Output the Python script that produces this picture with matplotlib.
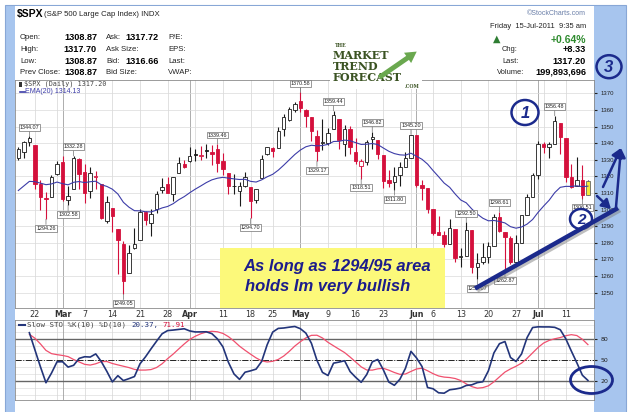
import numpy as np
import pandas as pd
import matplotlib
matplotlib.use("Agg")
import matplotlib.pyplot as plt
from matplotlib.patches import Rectangle, Ellipse
import matplotlib.patheffects as pe

# trading days shown on the chart (2011)
days = [
    "02-16", "02-17", "02-18", "02-22", "02-23", "02-24", "02-25", "02-28",
    "03-01", "03-02", "03-03", "03-04", "03-07", "03-08", "03-09", "03-10", "03-11",
    "03-14", "03-15", "03-16", "03-17", "03-18", "03-21", "03-22", "03-23", "03-24",
    "03-25", "03-28", "03-29", "03-30", "03-31", "04-01", "04-04", "04-05", "04-06",
    "04-07", "04-08", "04-11", "04-12", "04-13", "04-14", "04-15", "04-18", "04-19",
    "04-20", "04-21", "04-25", "04-26", "04-27", "04-28", "04-29", "05-02", "05-03",
    "05-04", "05-05", "05-06", "05-09", "05-10", "05-11", "05-12", "05-13", "05-16",
    "05-17", "05-18", "05-19", "05-20", "05-23", "05-24", "05-25", "05-26", "05-27",
    "05-31", "06-01", "06-02", "06-03", "06-06", "06-07", "06-08", "06-09", "06-10",
    "06-13", "06-14", "06-15", "06-16", "06-17", "06-20", "06-21", "06-22", "06-23",
    "06-24", "06-27", "06-28", "06-29", "06-30", "07-01", "07-05", "07-06", "07-07",
    "07-08", "07-11", "07-12", "07-13", "07-14", "07-15",
]
opens = [
    1330.8, 1334.4, 1340.4, 1338.9, 1315.4, 1307.1, 1307.3, 1321.6,
    1328.6, 1305.5, 1312.4, 1330.7, 1322.7, 1311.1, 1319.9, 1315.7, 1293.4,
    1301.2, 1288.5, 1279.5, 1261.6, 1276.7, 1281.7, 1298.3, 1292.2, 1300.6,
    1311.8, 1315.5, 1309.4, 1321.9, 1327.4, 1329.5, 1333.6, 1332.0, 1335.9,
    1334.8, 1336.2, 1329.0, 1322.0, 1314.0, 1311.1, 1314.5, 1313.4, 1306.0,
    1319.1, 1333.2, 1337.1, 1336.8, 1348.4, 1353.9, 1360.1, 1365.2, 1359.8,
    1355.9, 1344.2, 1340.2, 1340.2, 1348.3, 1354.5, 1339.4, 1348.7, 1334.8,
    1326.1, 1328.5, 1342.4, 1342.0, 1333.1, 1317.7, 1316.4, 1320.6, 1325.7,
    1331.1, 1345.2, 1314.6, 1312.9, 1300.3, 1286.3, 1284.6, 1279.6, 1288.3,
    1271.3, 1272.2, 1287.9, 1265.5, 1268.6, 1271.5, 1278.4, 1295.5, 1286.6,
    1283.0, 1268.4, 1280.2, 1296.9, 1307.6, 1320.6, 1339.6, 1337.6, 1339.6,
    1352.4, 1343.3, 1319.6, 1314.5, 1317.7, 1308.87,
]
highs = [
    1337.6, 1341.5, 1344.07, 1338.9, 1317.9, 1310.9, 1320.6, 1329.4,
    1332.1, 1314.2, 1332.28, 1331.1, 1327.7, 1325.7, 1323.2, 1315.7, 1308.4,
    1301.2, 1288.5, 1280.9, 1278.9, 1288.9, 1300.6, 1299.4, 1300.5, 1311.3,
    1319.2, 1319.7, 1319.5, 1331.7, 1329.8, 1337.9, 1336.7, 1338.2, 1339.4,
    1338.8, 1339.46, 1333.8, 1322.0, 1321.4, 1316.8, 1322.9, 1313.4, 1312.7,
    1332.7, 1337.5, 1337.6, 1349.6, 1357.5, 1361.7, 1364.6, 1370.58, 1360.8,
    1355.9, 1348.0, 1354.4, 1349.4, 1359.44, 1354.5, 1351.1, 1350.5, 1343.3,
    1330.4, 1341.8, 1346.82, 1342.0, 1333.1, 1323.7, 1325.9, 1328.5, 1334.6,
    1345.20, 1345.2, 1318.0, 1312.9, 1300.3, 1296.2, 1287.0, 1294.5, 1288.3,
    1277.0, 1292.50, 1287.9, 1274.1, 1279.8, 1280.4, 1297.6, 1298.61, 1286.6,
    1283.9, 1284.9, 1296.8, 1309.2, 1322.0, 1341.0, 1340.9, 1340.9, 1356.48,
    1352.4, 1343.3, 1327.2, 1331.5, 1326.9, 1317.70,
]
lows = [
    1329.6, 1331.0, 1338.1, 1312.3, 1299.6, 1294.26, 1307.3, 1320.6,
    1305.3, 1302.58, 1312.4, 1312.6, 1304.0, 1306.9, 1312.3, 1294.2, 1292.0,
    1286.4, 1261.1, 1249.05, 1261.6, 1276.2, 1281.7, 1291.0, 1284.1, 1297.7,
    1310.2, 1310.2, 1305.3, 1321.9, 1325.0, 1328.9, 1329.1, 1330.0, 1331.1,
    1326.6, 1322.9, 1321.1, 1309.5, 1309.2, 1302.4, 1313.7, 1294.70, 1304.0,
    1319.1, 1332.8, 1331.5, 1336.8, 1344.3, 1353.6, 1358.7, 1358.6, 1349.5,
    1341.5, 1329.17, 1335.6, 1338.6, 1348.3, 1336.4, 1332.0, 1333.4, 1327.3,
    1318.51, 1326.6, 1336.4, 1330.7, 1312.9, 1313.9, 1311.80, 1314.4, 1325.7,
    1331.1, 1313.7, 1305.6, 1297.9, 1284.7, 1284.7, 1277.4, 1279.6, 1268.3,
    1265.6, 1272.2, 1261.9, 1258.07, 1267.4, 1267.6, 1278.4, 1286.8, 1262.87,
    1267.2, 1267.5, 1280.2, 1296.9, 1307.6, 1318.2, 1334.3, 1330.9, 1339.6,
    1333.7, 1316.4, 1313.3, 1314.5, 1306.51, 1308.87,
]
closes = [
    1336.3, 1340.4, 1343.0, 1315.4, 1307.4, 1306.1, 1319.9, 1327.2,
    1306.3, 1308.4, 1331.0, 1321.2, 1310.1, 1321.8, 1320.0, 1295.1, 1304.3,
    1296.4, 1281.9, 1256.9, 1273.7, 1279.2, 1298.4, 1293.8, 1297.5, 1309.7,
    1313.8, 1310.2, 1319.4, 1328.3, 1325.8, 1332.4, 1332.9, 1332.6, 1335.5,
    1333.5, 1328.2, 1324.5, 1314.2, 1314.4, 1314.5, 1319.7, 1305.1, 1312.6,
    1330.4, 1337.4, 1335.3, 1347.2, 1355.7, 1360.5, 1363.6, 1361.2, 1356.6,
    1347.3, 1335.1, 1340.2, 1346.3, 1357.2, 1342.1, 1348.7, 1337.8, 1329.5,
    1329.0, 1340.7, 1343.6, 1333.3, 1317.4, 1316.3, 1320.5, 1325.7, 1331.1,
    1345.2, 1314.6, 1312.9, 1300.2, 1286.2, 1284.9, 1279.6, 1289.0, 1271.0,
    1271.8, 1287.9, 1265.4, 1267.6, 1271.5, 1278.4, 1295.5, 1287.1, 1283.5,
    1268.5, 1280.1, 1296.7, 1307.4, 1320.6, 1339.7, 1337.9, 1339.2, 1353.2,
    1343.8, 1319.5, 1313.6, 1317.7, 1308.9, 1317.20,
]
# candles carrying a value callout, and whether it marks the high or the low
callout_idx = [2, 5, 9, 10, 19, 36, 42, 51, 54, 57, 62, 64, 68, 71, 81, 83, 87, 88, 97, 102]
callout_hi = [1, 0, 0, 1, 0, 1, 0, 1, 0, 1, 0, 1, 0, 1, 1, 0, 1, 0, 1, 0]
ema_start = 1311.5  # EMA(20) level at the left edge

LS = "Liberation Sans"
NARROW = ["Liberation Sans Narrow", "Liberation Sans"]
NAVY = "#1b2a8c"
RED = "#d4103c"

dates = pd.to_datetime(["2011-" + d for d in days])
n = len(dates)
x = np.arange(n)
o, h, l, c = (np.array(v) for v in (opens, highs, lows, closes))

# indicators
ema = [ema_start]
for v in c[1:]:
    ema.append(ema[-1] + 2 / 21 * (v - ema[-1]))
df = pd.DataFrame({"h": h, "l": l, "c": c})
hh = df.h.rolling(10, min_periods=1).max()
ll = df.l.rolling(10, min_periods=1).min()
fast_k = 100 * (df.c - ll) / (hh - ll)
slow_k = fast_k.rolling(3, min_periods=1).mean()
slow_d = slow_k.rolling(10, min_periods=1).mean()

# week / month boundaries for grid and date labels
wk = dates.isocalendar().week.values
mo = dates.month.values
week_starts = [i for i in range(1, n) if wk[i] != wk[i - 1]]
month_starts = [i for i in range(1, n) if mo[i] != mo[i - 1]]
tick_pos, tick_lab = [], []
for i in sorted(set(week_starts) | set(month_starts)):
    if i in month_starts:
        tick_pos.append(i); tick_lab.append(dates[i].strftime("%b"))
    elif min(abs(i - m) for m in month_starts) > 2:
        tick_pos.append(i); tick_lab.append(str(dates[i].day))

W, H = 634, 412
fig = plt.figure(figsize=(W / 100, H / 100), dpi=100)


def rect(x0, y0, x1, y1):
    return [x0 / W, 1 - y1 / H, (x1 - x0) / W, (y1 - y0) / H]


# frame and header
bg = fig.add_axes([0, 0, 1, 1], zorder=0)
bg.set_xlim(0, W); bg.set_ylim(H, 0); bg.axis("off")
bg.add_patch(Rectangle((5, 5), 621, H, fc="#a7c5ee", ec="#88a7d6", lw=0.8))
bg.add_patch(Rectangle((15, 6), 579, H, fc="white", ec="none"))

bg.text(17, 14, "$SPX", fontsize=7.5, fontweight="bold", va="center", family=LS)
bg.text(44, 14.5, "(S&P 500 Large Cap Index) INDX", fontsize=5.6, va="center", family=LS, color="#222")
bg.text(586, 13, "©StockCharts.com", fontsize=5, ha="right", va="center", family=LS, color="#6a7fa8")

rows = [37, 49, 61, 72]
for y, a, b, cc, dd in zip(rows, ["Open:", "High:", "Low:", "Prev Close:"],
                           ["1308.87", "1317.70", "1308.87", "1308.87"],
                           ["Ask:", "Ask Size:", "Bid:", "Bid Size:"],
                           ["P/E:", "EPS:", "Last:", "VWAP:"]):
    bg.text(20, y, a, fontsize=5.6, va="center", family=LS, color="#222")
    bg.text(97, y, b, fontsize=6.6, fontweight="bold", ha="right", va="center", family=LS)
    bg.text(106, y, cc, fontsize=5.6, va="center", family=LS, color="#222")
    bg.text(168, y, dd, fontsize=5.6, va="center", family=LS, color="#222")
bg.text(159, 37, "1317.72", fontsize=6.6, fontweight="bold", ha="right", va="center", family=LS)
bg.text(159, 61, "1316.66", fontsize=6.6, fontweight="bold", ha="right", va="center", family=LS)

bg.text(586, 26, "Friday  15-Jul-2011  9:35 am", fontsize=5.4, ha="right", va="center", family=LS, color="#222")
bg.text(497, 39, "▲", fontsize=7, ha="center", va="center", family="DejaVu Sans", color="#2e7d32")
bg.text(586, 39.5, "+0.64%", fontsize=7.5, fontweight="bold", ha="right", va="center", family=LS, color="#2e8b2e")
for y, a, b, x0 in [(49, "Chg:", "+8.33", 502), (61, "Last:", "1317.20", 502),
                    (72, "Volume:", "199,893,696", 497)]:
    bg.text(x0, y, a, fontsize=5.4, va="center", family=LS, color="#222")
    bg.text(586, y, b, fontsize=6.6, fontweight="bold", ha="right", va="center", family=LS)

# price panel
ax = fig.add_axes(rect(15, 80, 594, 308), zorder=1)
ax.set_xlim(-0.6, 104.1)
ax.set_ylim(1240.8, 1378.0)
ax.set_axisbelow(True)
ax.grid(axis="y", color="#dadada", lw=0.5)
for i in week_starts:
    ax.axvline(i, color="#d4d4d4", lw=0.5, zorder=0)
for i in month_starts:
    ax.axvline(i, color="#a0a0a0", lw=0.6, zorder=0)

prev = np.r_[c[0] - 1, c[:-1]]
col = np.where(c >= prev, "#1a1a1a", RED)
face = np.where(c < o, col, "white")
edge = col.copy()
face[-1] = "#f2e93a"
edge[-1] = "#666666"
ax.vlines(x, l, h, colors=col, lw=0.8, zorder=3)
ax.bar(x, np.maximum(np.abs(c - o), 0.35), bottom=np.minimum(o, c), width=0.62,
       color=face, edgecolor=edge, linewidth=0.6, zorder=4)
ax.plot(x, ema, color="#3c3ca8", lw=0.8, zorder=5)

for i, up in zip(callout_idx, callout_hi):
    val = h[i] if up else l[i]
    ax.annotate(f"{val:.2f}", xy=(i, val), xytext=(0, 6.5 if up else -6.5),
                textcoords="offset points", ha="center", va="center",
                fontsize=3.9, family=NARROW, color="#222", zorder=7,
                bbox=dict(boxstyle="square,pad=0.18", fc="white", ec="#707070", lw=0.5),
                arrowprops=dict(arrowstyle="-", color="#707070", lw=0.5, shrinkA=0, shrinkB=0))

ax.yaxis.tick_right()
ax.set_yticks(np.arange(1250, 1371, 10))
ax.tick_params(axis="y", labelsize=4.3, length=2, pad=2.5, colors="#222")
for t in ax.get_yticklabels():
    t.set_family(NARROW)
ax.set_xticks(tick_pos)
ax.set_xticklabels(tick_lab)
ax.tick_params(axis="x", length=0, pad=1.5, labelsize=5.8, colors="#333")
for t, lab in zip(ax.get_xticklabels(), tick_lab):
    t.set_family("DejaVu Sans")
    if not lab.isdigit():
        t.set_fontweight("bold")
for s in ax.spines.values():
    s.set_color("#8a8a8a"); s.set_linewidth(0.6)

# stochastic panel
ax2 = fig.add_axes(rect(15, 320, 594, 400), zorder=1)
ax2.set_xlim(-0.6, 104.1)
ax2.set_ylim(-7.8, 107.3)
for v in range(0, 101, 10):
    ax2.axhline(v, color="#dedede", lw=0.5, zorder=0)
for i in week_starts:
    ax2.axvline(i, color="#d4d4d4", lw=0.5, zorder=0)
for i in month_starts:
    ax2.axvline(i, color="#a0a0a0", lw=0.6, zorder=0)
ax2.axhline(80, color="#666", lw=1.0, zorder=1)
ax2.axhline(20, color="#666", lw=1.0, zorder=1)
ax2.axhline(50, color="#222", lw=0.7, ls="-.", zorder=1)
ax2.plot(x[2:], slow_d[2:], color="#f0506e", lw=0.9, zorder=3)
ax2.plot(x[2:], slow_k[2:], color="#23357a", lw=1.2, zorder=4)
ax2.yaxis.tick_right()
ax2.set_yticks([20, 50, 80])
ax2.tick_params(axis="y", labelsize=4.5, length=2, pad=2.5, colors="#222")
ax2.set_xticks([])
for s in ax2.spines.values():
    s.set_color("#8a8a8a"); s.set_linewidth(0.6)

# overlay: legends, logo, hand-drawn annotations
ov = fig.add_axes([0, 0, 1, 1], zorder=5)
ov.set_xlim(0, W); ov.set_ylim(H, 0); ov.axis("off")

ov.add_patch(Rectangle((19, 81.5), 3, 5, fc="#333", ec="none"))
ov.text(24, 84, "$SPX (Daily) 1317.20", fontsize=4.9, family="DejaVu Sans Mono", va="center", color="#444")
ov.plot([19.5, 24.5], [91.5, 91.5], color="#3c3ca8", lw=1.2)
ov.text(25, 91.5, "EMA(20) 1314.13", fontsize=5, family=LS, va="center", color="#3c3ca8")

ov.plot([18.5, 25], [325, 325], color="#23357a", lw=1.5)
ov.text(27, 325, "Slow STO %K(10) %D(10)", fontsize=5.4, family="DejaVu Sans Mono", va="center", color="#444")
ov.text(131, 325, "20.37,", fontsize=5.4, family="DejaVu Sans Mono", va="center", color="#23357a")
ov.text(162.5, 325, "71.91", fontsize=5.4, family="DejaVu Sans Mono", va="center", color=RED)

ov.add_patch(Rectangle((330, 40), 92, 49, fc="white", ec="none"))
logo = dict(family="DejaVu Serif", fontweight="bold", color="#3b5323", va="baseline")
ov.text(335, 47, "THE", fontsize=3.4, **logo)
ov.text(333, 59, "MARKET", fontsize=8, **logo)
ov.text(333, 70, "TREND", fontsize=8, **logo)
ov.text(333, 81, "FORECAST", fontsize=8, **logo)
ov.text(405, 88, ".COM", fontsize=3.4, **logo)
ov.annotate("", xy=(419, 50), xytext=(377, 79),
            arrowprops=dict(arrowstyle="simple,head_width=0.9,head_length=0.8,tail_width=0.35",
                            color="#6aa84f", lw=0))

ov.add_patch(Rectangle((220, 248), 225, 60, fc="#fcf97a", ec="none"))
note = dict(fontsize=12, fontweight="bold", fontstyle="italic", family=LS, color="#1c1c8c", va="center")
ov.text(243, 266, "As long as 1294/95 area", **note)
ov.text(245, 286, "holds Im very bullish", **note)

ov.plot([475, 618], [288.5, 208], color=NAVY, lw=3.2, solid_capstyle="butt",
        path_effects=[pe.SimpleLineShadow(offset=(1.5, -1.5), shadow_color="gray", alpha=0.5), pe.Normal()])
arrow = dict(arrowstyle="-|>,head_width=0.35,head_length=0.6", color=NAVY, lw=1.8, mutation_scale=9,
             shrinkA=0, shrinkB=0)
ov.annotate("", xy=(611, 209), xytext=(597, 196), arrowprops=arrow)
ov.annotate("", xy=(621, 148), xytext=(603, 187), arrowprops=arrow)
ov.annotate("", xy=(621, 148), xytext=(616, 207), arrowprops=arrow)

circ = dict(fontsize=12, fontweight="bold", fontstyle="italic", family=LS, color=NAVY,
            ha="center", va="center")
ov.add_patch(Ellipse((525, 112.5), 27, 25, fc="none", ec=NAVY, lw=1.8))
ov.text(525, 113, "1", **circ)
ov.add_patch(Ellipse((581, 219), 22, 20, fc="white", ec=NAVY, lw=1.8))
ov.text(581, 219.5, "2", fontsize=11, **{k: v for k, v in circ.items() if k != "fontsize"})
ov.add_patch(Ellipse((609, 66.7), 25, 23, fc="none", ec=NAVY, lw=1.8))
ov.text(609, 67, "3", **circ)
ov.add_patch(Ellipse((591.5, 380), 42, 27, fc="none", ec=NAVY, lw=2))

fig.savefig("out.png", dpi=100)
